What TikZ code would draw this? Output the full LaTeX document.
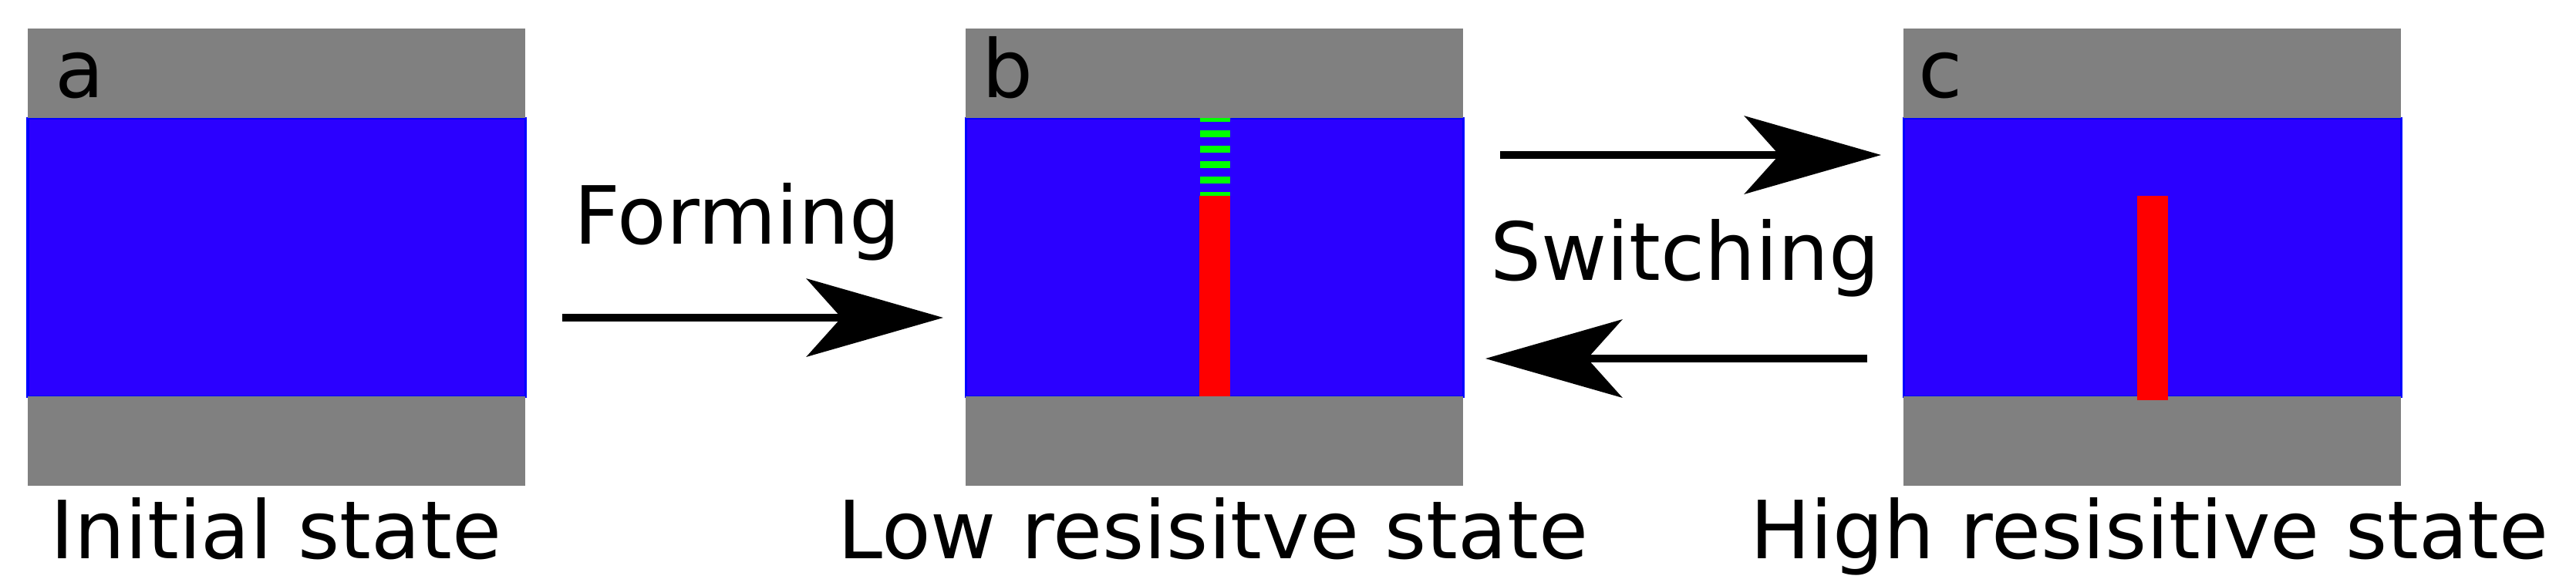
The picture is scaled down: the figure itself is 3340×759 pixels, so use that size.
\documentclass[tikz,border=0pt]{standalone}
\usepackage{fontspec}
\setmainfont{DejaVu Sans}
\usetikzlibrary{arrows.meta}
\definecolor{electrode}{RGB}{128,128,128}
\definecolor{oxide}{RGB}{43,0,255}
\definecolor{filament}{RGB}{255,0,0}
\definecolor{vacancy}{RGB}{0,255,0}

\begin{document}
\begin{tikzpicture}[x=0.01cm,y=-0.01cm,
    lbl/.style={anchor=base,inner sep=0pt,font=\fontsize{29.6}{35}\selectfont},
    tag/.style={lbl,anchor=base west},
    trans/.style={line width=0.1cm,-{Stealth[length=1.77cm,width=1.01cm,inset=0.45cm]}}]
    \useasboundingbox (0,0) rectangle (3340,759);
    % oxide layers
    \foreach \x in {36,1252,2468}
      \filldraw[fill=oxide,draw=blue,line width=0.03cm] (\x,153) rectangle ++(645,361);
    % oxygen vacancies above the filament
    \foreach \y in {148,168,...,248}
      \filldraw[fill=vacancy,draw=oxide,line width=0.01cm] (1555,\y) rectangle ++(40,10);
    % electrodes
    \foreach \x in {36,1252,2468} {
      \fill[electrode] (\x,37) rectangle ++(645,116);
      \fill[electrode] (\x,514) rectangle ++(645,116);
    }
    % filaments
    \fill[filament] (1555,254) rectangle (1595,514);
    \fill[filament] (2771,254) rectangle (2811,519);
    % panel tags
    \node[tag] (tag-a) at (71,126) {a};
    \node[tag] (tag-b) at (1273,126) {b};
    \node[tag] (tag-c) at (2487,126) {c};
    % states
    \node[lbl] (init) at (358,724) {Initial state};
    \node[lbl] (lrs) at (1573,724) {Low resisitve state};
    \node[lbl] (hrs) at (2787,724) {High resisitive state};
    % transitions
    \coordinate (form-s) at (729,412);
    \coordinate (form-e) at (1223,412);
    \coordinate (set-s) at (1945,201);
    \coordinate (set-e) at (2439,201);
    \coordinate (reset-s) at (2421,465);
    \coordinate (reset-e) at (1926,465);
    \draw[trans] (form-s) -- (form-e);
    \draw[trans] (set-s) -- (set-e);
    \draw[trans] (reset-s) -- (reset-e);
    \node[lbl] (forming) at (956,316) {Forming};
    \node[lbl] (switching) at (2185,363) {Switching};
\end{tikzpicture}
\end{document}
